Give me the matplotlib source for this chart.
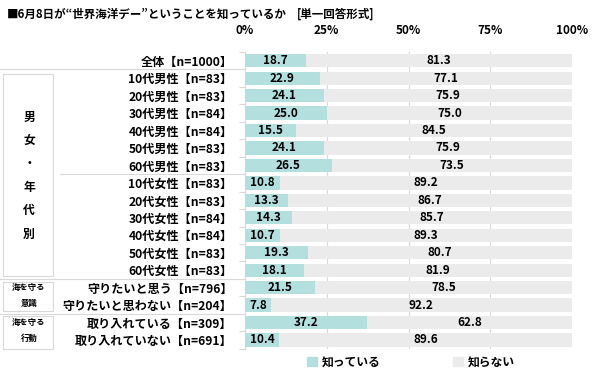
import matplotlib
matplotlib.use("Agg")
import matplotlib.pyplot as plt
from matplotlib.patches import Rectangle, Patch
from matplotlib.transforms import blended_transform_factory

plt.rcParams['font.family'] = ['Noto Sans CJK JP', 'DejaVu Sans']
plt.rcParams['font.weight'] = 'bold'

labels = ['全体【n=1000】',
          '10代男性【n=83】', '20代男性【n=83】', '30代男性【n=84】',
          '40代男性【n=84】', '50代男性【n=83】', '60代男性【n=83】',
          '10代女性【n=83】', '20代女性【n=83】', '30代女性【n=84】',
          '40代女性【n=84】', '50代女性【n=83】', '60代女性【n=83】',
          '守りたいと思う【n=796】', '守りたいと思わない【n=204】',
          '取り入れている【n=309】', '取り入れていない【n=691】']
knows = [18.7, 22.9, 24.1, 25.0, 15.5, 24.1, 26.5, 10.8, 13.3, 14.3, 10.7,
         19.3, 18.1, 21.5, 7.8, 37.2, 10.4]
dont_know = [81.3, 77.1, 75.9, 75.0, 84.5, 75.9, 73.5, 89.2, 86.7, 85.7, 89.3,
             80.7, 81.9, 78.5, 92.2, 62.8, 89.6]
series_names = ['知っている', '知らない']
xticks = [0, 25, 50, 75, 100]
group_chars = ['男', '女', '・', '年', '代', '別']
small_groups = [(13, 14, '海を守る', '意識'), (15, 16, '海を守る', '行動')]

teal = '#b3e0df'
grey = '#ebebeb'
line_c = '#d9d9d9'

fig = plt.figure(figsize=(6, 3.73), dpi=100)
H = 373.0
top_px, bot_px = 52.0, 348.7
ax = fig.add_axes([245 / 600, 1 - bot_px / H, 327 / 600, (bot_px - top_px) / H])

n = len(labels)
ys = list(range(n))
ax.barh(ys, knows, height=0.76, color=teal, zorder=3)
ax.barh(ys, dont_know, left=knows, height=0.76, color=grey, zorder=3)

for y, a, b in zip(ys, knows, dont_know):
    ax.text(a / 2, y, f'{a:.1f}', ha='center', va='center', fontsize=8.5,
            fontweight='bold', zorder=4)
    ax.text(a + b / 2, y, f'{b:.1f}', ha='center', va='center', fontsize=8.5,
            fontweight='bold', zorder=4)

ax.set_xlim(0, 100)
ax.set_ylim(n - 0.5, -0.5)
for x in xticks[1:-1]:
    ax.axvline(x, color=line_c, lw=0.8, zorder=1)

ax.xaxis.tick_top()
ax.set_xticks(xticks)
ax.set_xticklabels([f'{x}%' for x in xticks], fontsize=8.5, fontweight='bold')
ax.tick_params(axis='x', length=0, pad=11)

ax.set_yticks(ys)
ax.set_yticklabels(labels, fontsize=8.7, fontweight='bold')
ax.tick_params(axis='y', which='major', length=0, pad=9)
ax.set_yticks([y + 0.5 for y in ys[:-1]] + [-0.5, n - 0.5], minor=True)
ax.tick_params(axis='y', which='minor', length=4, color=line_c, width=0.8)

for s in ['top', 'right', 'bottom']:
    ax.spines[s].set_visible(False)
ax.spines['left'].set_color(line_c)
ax.spines['left'].set_linewidth(0.8)

# separators and group boxes on the left
tr = blended_transform_factory(fig.transFigure, ax.transData)
for yb, x0 in [(0.5, 0.0), (6.5, 60 / 600), (12.5, 0.0), (14.5, 0.0)]:
    fig.add_artist(plt.Line2D([x0, 245 / 600], [yb, yb], transform=tr,
                              color=line_c, lw=0.8))

boxes = [(0.75, 12.35), (12.7, 14.35), (14.65, 16.5)]
for y0, y1 in boxes:
    fig.add_artist(Rectangle((3 / 600, y0), 50 / 600, y1 - y0, transform=tr,
                             fill=False, edgecolor=line_c, lw=0.8))

for i, ch in enumerate(group_chars):
    fig.text(29 / 600, 1 - (117 + i * 23.4) / H, ch, ha='center', va='center',
             fontsize=8.5, fontweight='bold')
for ya, yb2, t1, t2 in small_groups:
    fig.text(29 / 600, ya + 0.02, t1, transform=tr, ha='center', va='center',
             fontsize=6, fontweight='bold')
    fig.text(29 / 600, yb2 - 0.1, t2, transform=tr, ha='center', va='center',
             fontsize=6, fontweight='bold')

title = fig.text(7 / 600, 1 - 14 / H, '■6月8日が“世界海洋デー”ということを知っているか',
                 ha='left', va='center', fontsize=8.3, fontweight='bold')
fig.canvas.draw()
x_end = title.get_window_extent().x1
fig.text(max(x_end + 10, 272) / 600, 1 - 14 / H, '[単一回答形式]', ha='left',
         va='center', fontsize=8.3, fontweight='bold')

handles = [Patch(color=teal), Patch(color=grey)]
fig.legend(handles, series_names, loc='center', bbox_to_anchor=(411 / 600, 1 - 362 / H),
           ncol=2, frameon=False, fontsize=8.5, handlelength=0.8, handleheight=0.8,
           handletextpad=0.4, columnspacing=6.2)

fig.savefig('out.png', dpi=100)
